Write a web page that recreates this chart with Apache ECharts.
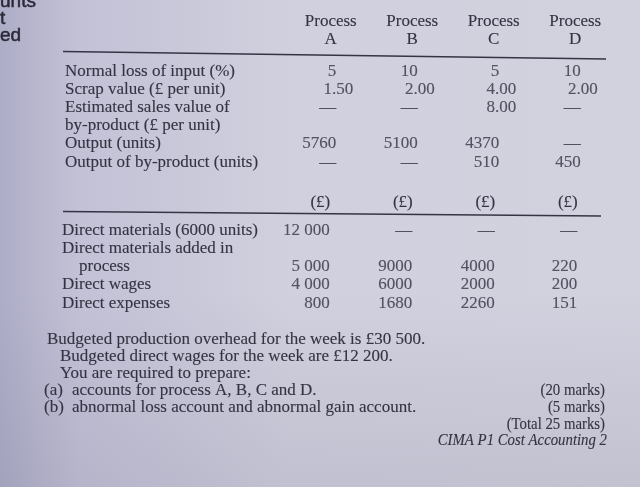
<!DOCTYPE html>
<html>
<head>
<meta charset="utf-8">
<style>
  html, body { margin: 0; padding: 0; background: #cfcedc; }
  #chart { width: 640px; height: 487px; }
</style>
<script src="https://cdn.jsdelivr.net/npm/echarts@6/dist/echarts.min.js"></script>
</head>
<body>
<div id="chart"></div>
<script>
// table data
var processes = ['A', 'B', 'C', 'D'];

var inputRows = ['Normal loss of input (%)', 'Scrap value (£ per unit)', 'Estimated sales value of',
  'by-product (£ per unit)', 'Output (units)', 'Output of by-product (units)'];
var normalLoss = ['5', '10', '5', '10'];
var scrapValue = ['1.50', '2.00', '4.00', '2.00'];
var byProductValue = ['—', '—', '8.00', '—'];
var outputUnits = ['5760', '5100', '4370', '—'];
var byProductUnits = ['—', '—', '510', '450'];

var costRows = ['Direct materials (6000 units)', 'Direct materials added in', 'process',
  'Direct wages', 'Direct expenses'];
var directMaterials = ['12 000', '—', '—', '—'];
var materialsAdded = ['5 000', '9000', '4000', '220'];
var directWages = ['4 000', '6000', '2000', '200'];
var directExpenses = ['800', '1680', '2260', '151'];

var noteLines = ['Budgeted production overhead for the week is £30 500.',
  'Budgeted direct wages for the week are £12 200.',
  'You are required to prepare:'];
var questionLabels = ['(a)', '(b)'];
var questions = ['accounts for process A, B, C and D.', 'abnormal loss account and abnormal gain account.'];
var marks = ['(20 marks)', '(5 marks)', '(Total 25 marks)'];
var source = 'CIMA P1 Cost Accounting 2';

var textColor = '#343342';
var serif = '"Liberation Serif", "DejaVu Serif", serif';
var ink = 0.12; // faint stroke, the photo's print is a touch heavy
var decimalShift = 17; // decimals hang past the integer column edge

function cells(rows) {
  var out = [];
  rows.forEach(function (arr, r) {
    if (!arr) return;
    arr.forEach(function (v, c) {
      var item = { value: [c, r, v] };
      if (v.indexOf('.') >= 0) item.label = { offset: [decimalShift, 0] };
      out.push(item);
    });
  });
  return out;
}

var cellLabel = {
  show: true, position: 'left', distance: 0,
  formatter: function (p) { return p.value[2]; },
  color: textColor, fontFamily: serif, fontSize: 17,
  textBorderColor: textColor, textBorderWidth: ink
};

function rowAxis(grid, rows, margin) {
  return {
    gridIndex: grid, type: 'category', data: rows, inverse: true,
    axisLine: { show: false }, axisTick: { show: false }, splitLine: { show: false },
    axisLabel: {
      interval: 0, align: 'left', margin: margin,
      color: textColor, fontFamily: serif, fontSize: 17,
      textBorderColor: textColor, textBorderWidth: ink,
      formatter: function (v) { return v === 'process' ? '\u2003' + v : v; }
    }
  };
}

function note(text, x, y, extra) {
  var style = {
    text: text, x: x, y: y, verticalAlign: 'middle',
    fontFamily: serif, fontSize: 17, fill: textColor, stroke: textColor, lineWidth: ink
  };
  var el = { type: 'text', silent: true, style: style };
  if (extra) {
    if (extra.align) style.align = extra.align;
    if (extra.italic) style.fontStyle = 'italic';
    if (extra.squeeze) { el.scaleX = extra.squeeze; el.originX = x; el.originY = y; }
  }
  return el;
}

var graphics = [
  {
    type: 'rect', z: -100, silent: true, shape: { x: 0, y: 0, width: 640, height: 487 },
    style: { fill: new echarts.graphic.LinearGradient(0, 0, 1, 0, [
      { offset: 0, color: '#aeadc7' }, { offset: 0.12, color: '#c2c1d6' },
      { offset: 0.45, color: '#d1d0de' }, { offset: 1, color: '#d2d1de' }]) }
  },
  {
    type: 'rect', z: -99, silent: true, shape: { x: 0, y: 0, width: 640, height: 487 },
    style: { fill: new echarts.graphic.LinearGradient(0, 0, 0, 1, [
      { offset: 0, color: 'rgba(90,90,120,0)' }, { offset: 0.6, color: 'rgba(90,90,120,0)' },
      { offset: 1, color: 'rgba(90,90,120,0.13)' }]) }
  },
  { type: 'line', silent: true, shape: { x1: 63, y1: 51.5, x2: 606, y2: 59 },
    style: { stroke: '#353445', lineWidth: 1.7 } },
  { type: 'line', silent: true, shape: { x1: 63, y1: 211.5, x2: 601, y2: 216 },
    style: { stroke: '#353445', lineWidth: 1.7 } }
];

// bits of the facing page, cut off at the left edge
[['unts', 2], ['t', 19], ['ed', 36]].forEach(function (t) {
  graphics.push({ type: 'text', silent: true, style: {
    text: t[0], x: 0, y: t[1], verticalAlign: 'middle',
    font: '19px "Liberation Sans", sans-serif', fill: '#2a2937',
    stroke: '#2a2937', lineWidth: 0.5 } });
});

var noteX = [47, 60, 60];
var noteY = [340, 357, 374];
noteLines.forEach(function (t, i) {
  graphics.push(note(t, noteX[i], noteY[i]));
});
questions.forEach(function (t, i) {
  var y = 391 + i * 17;
  graphics.push(note(questionLabels[i], 44, y));
  graphics.push(note(t, 72, y));
});
marks.forEach(function (t, i) {
  graphics.push(note(t, 605, 391 + i * 17, { align: 'right', squeeze: 0.87 }));
});
graphics.push(note(source, 607, 441, { align: 'right', italic: true, squeeze: 0.87 }));

var option = {
  animation: false,
  grid: [
    { left: 296, right: 18, top: 62, height: 109.2, outerBoundsMode: 'none' },
    { left: 289, right: 21, top: 221, height: 91.25, outerBoundsMode: 'none' }
  ],
  xAxis: [
    {
      gridIndex: 0, type: 'category', data: processes, position: 'top',
      axisLine: { show: false }, axisTick: { show: false }, splitLine: { show: false },
      axisLabel: {
        interval: 0, margin: 13, lineHeight: 18, padding: [0, 12, 0, 0],
        color: textColor, fontFamily: serif, fontSize: 17,
        textBorderColor: textColor, textBorderWidth: ink,
        formatter: function (v) { return 'Process\n' + v; }
      }
    },
    {
      gridIndex: 1, type: 'category', data: processes, position: 'top',
      axisLine: { show: false }, axisTick: { show: false }, splitLine: { show: false },
      axisLabel: {
        interval: 0, margin: 9, align: 'right', lineHeight: 18,
        color: textColor, fontFamily: serif, fontSize: 17,
        textBorderColor: textColor, textBorderWidth: ink,
        formatter: function () { return '(£)'; }
      }
    }
  ],
  yAxis: [rowAxis(0, inputRows, 231), rowAxis(1, costRows, 227)],
  series: [
    {
      type: 'scatter', xAxisIndex: 0, yAxisIndex: 0, symbolSize: 1, silent: true,
      itemStyle: { color: 'transparent' }, label: cellLabel,
      data: cells([normalLoss, scrapValue, byProductValue, null, outputUnits, byProductUnits])
    },
    {
      type: 'scatter', xAxisIndex: 1, yAxisIndex: 1, symbolSize: 1, silent: true,
      itemStyle: { color: 'transparent' }, label: cellLabel,
      data: cells([directMaterials, null, materialsAdded, directWages, directExpenses])
    }
  ],
  graphic: graphics
};

var myChart = echarts.init(document.getElementById('chart'));
myChart.setOption(option);
</script>
</body>
</html>
